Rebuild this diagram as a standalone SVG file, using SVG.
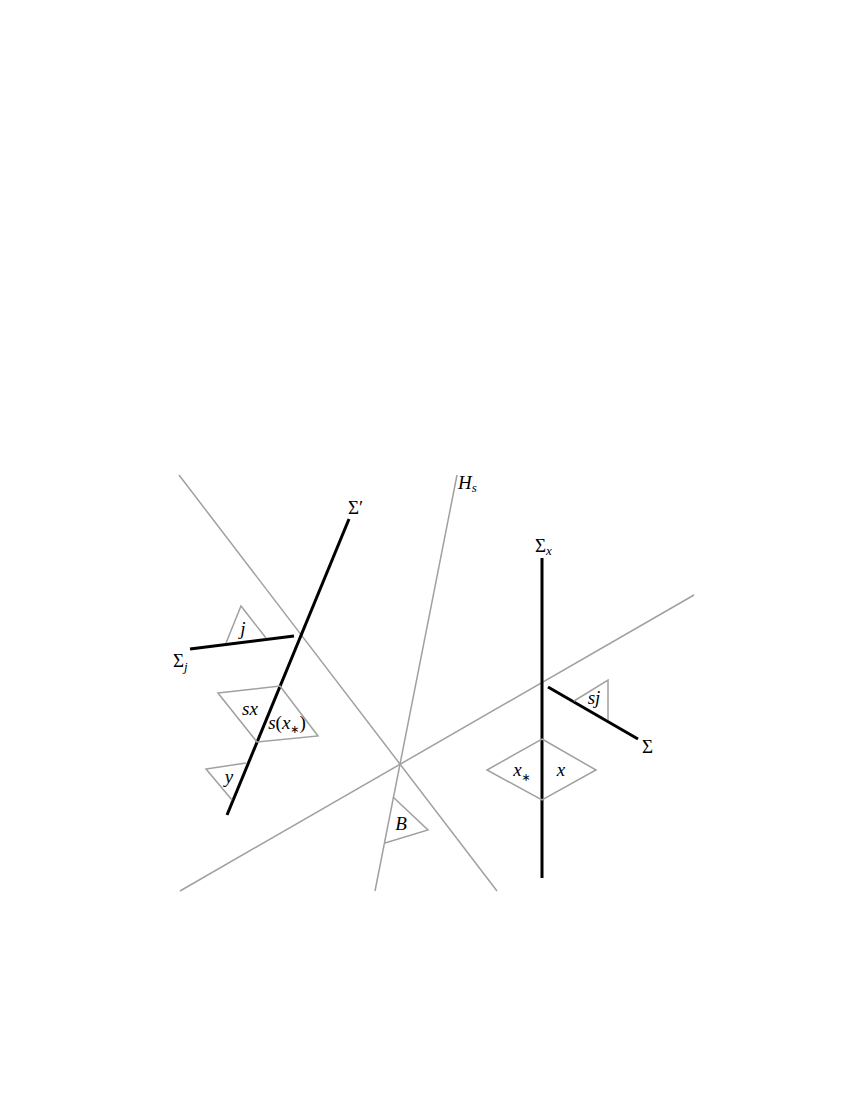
<svg xmlns="http://www.w3.org/2000/svg" width="850" height="1100" viewBox="0 0 850 1100">
<style>
.g{fill:none;stroke:#a0a0a0;stroke-width:1.5;stroke-linejoin:miter}
.k{fill:none;stroke:#000;stroke-width:3}
text{font-family:"Liberation Serif","DejaVu Serif",serif;font-size:19px;fill:#000}
.i{font-style:italic}
.s{font-size:13px}
.ast{font-family:"DejaVu Sans",sans-serif;font-style:normal;font-size:11px;fill:#000}
</style>
<rect width="850" height="1100" fill="#fff"/>
<g id="connectors">
<line class="g" x1="179" y1="475" x2="497" y2="891"/>
<line class="g" x1="457" y1="475" x2="375" y2="891"/>
<line class="g" x1="180" y1="891" x2="694" y2="595"/>
<line class="k" x1="349" y1="519" x2="227" y2="815"/>
<line class="k" x1="190" y1="649" x2="294" y2="636"/>
<line class="k" x1="542" y1="558" x2="542" y2="878"/>
<line class="k" x1="548" y1="687" x2="638" y2="739"/>
</g>
<g id="tri-j"><polyline class="g" points="226,643 241,606 266,638"/><text class="i" x="243" y="635" text-anchor="middle">j</text></g>
<g id="quad-sx"><polygon class="g" points="218,693 280,686 318,736 257,742"/><text class="i" x="250" y="715" text-anchor="middle">sx</text>
<text x="287" y="729" text-anchor="middle" font-size="14"><tspan class="i">s</tspan>(<tspan class="i">x</tspan><tspan class="ast" dy="4" font-size="10">∗</tspan><tspan dy="-4">)</tspan></text></g>
<g id="tri-y"><polyline class="g" points="246,763 206,769 232,800"/><text class="i" x="229" y="783" text-anchor="middle">y</text></g>
<g id="tri-B"><polyline class="g" points="393,797 428,830 385,843"/><text class="i" x="401" y="830" text-anchor="middle">B</text></g>
<g id="tri-sj"><polyline class="g" points="574,701 608,680 608,720"/><text class="i" x="594" y="704" text-anchor="middle">sj</text></g>
<g id="diamond-x"><polygon class="g" points="542,739 596,770 542,800 487,770"/><text class="i" x="522" y="776" text-anchor="middle">x<tspan class="ast" dy="5">∗</tspan></text><text class="i" x="561" y="776" text-anchor="middle">x</text></g>
<g id="label-sigmaprime"><text x="348" y="514">Σ′</text></g>
<g id="label-sigmaj"><text x="173" y="667">Σ<tspan class="i s" dy="4">j</tspan></text></g>
<g id="label-Hs"><text class="i" x="458" y="489">H<tspan class="s" dy="3">s</tspan></text></g>
<g id="label-sigmax"><text x="535" y="552">Σ<tspan class="i s" dy="3">x</tspan></text></g>
<g id="label-sigma"><text x="642" y="753">Σ</text></g>
</svg>
